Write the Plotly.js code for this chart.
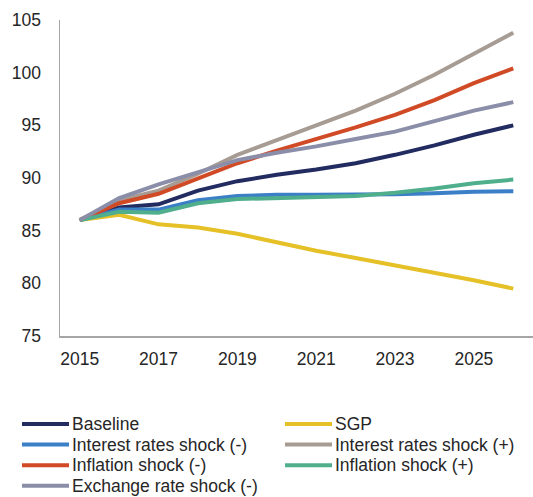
<!DOCTYPE html>
<html>
<head>
<meta charset="utf-8">
<script src="https://cdn.plot.ly/plotly-3.0.1.min.js"></script>
<style>html,body{margin:0;padding:0;background:#fff;}#chart{width:533px;height:497px;}</style>
</head>
<body>
<div id="chart"></div>
<script>
const years = [2015, 2016, 2017, 2018, 2019, 2020, 2021, 2022, 2023, 2024, 2025, 2026];
const baseline   = [86.0, 87.2, 87.5, 88.8, 89.7, 90.3, 90.8, 91.4, 92.2, 93.1, 94.1, 95.0];
const sgp        = [86.0, 86.5, 85.6, 85.3, 84.7, 83.9, 83.1, 82.4, 81.7, 81.0, 80.3, 79.5];
const irMinus    = [86.0, 87.0, 87.0, 87.9, 88.3, 88.4, 88.4, 88.4, 88.45, 88.55, 88.7, 88.75];
const irPlus     = [86.0, 87.9, 88.8, 90.4, 92.2, 93.6, 94.9, 96.4, 98.0, 99.8, 101.8, 103.8];
const inflMinus  = [86.0, 87.6, 88.5, 90.0, 91.4, 92.6, 93.7, 94.8, 96.0, 97.4, 99.0, 100.4];
const inflPlus   = [86.0, 86.8, 86.7, 87.6, 88.0, 88.1, 88.15, 88.3, 88.6, 89.0, 89.5, 89.85];
const fxMinus    = [86.0, 88.1, 89.4, 90.6, 91.7, 92.4, 93.0, 93.7, 94.4, 95.4, 96.4, 97.2];

const names = ['Baseline', 'SGP', 'Interest rates shock (-)', 'Interest rates shock (+)',
               'Inflation shock (-)', 'Inflation shock (+)', 'Exchange rate shock (-)'];
const series = [baseline, sgp, irMinus, irPlus, inflMinus, inflPlus, fxMinus];
const colors = ['#232c60', '#e6c027', '#3b7fc6', '#a79c94', '#d14a26', '#4fae8c', '#8b8ea8'];

const W = 533, H = 497;
const M = {l: 60, r: 0, t: 20, b: 161};
const PW = W - M.l - M.r, PH = H - M.t - M.b;
const px2x = px => (px - M.l) / PW;
const py2y = py => (H - M.b - py) / PH;

const traces = series.map((ys, i) => ({
  x: years, y: ys, name: names[i], type: 'scatter', mode: 'lines',
  line: {color: colors[i], width: 4}, showlegend: false
}));

// Legend drawn in two columns below the plot
const shapes = [], annotations = [];
names.forEach((nm, i) => {
  const col = i % 2, row = Math.floor(i / 2);
  const lx = 22 + col * 263, ly = 424 + row * 20.6;
  shapes.push({type: 'line', xref: 'paper', yref: 'paper',
    x0: px2x(lx), x1: px2x(lx + 47), y0: py2y(ly), y1: py2y(ly),
    line: {color: colors[i], width: 4}});
  annotations.push({xref: 'paper', yref: 'paper', x: px2x(lx + 49), y: py2y(ly),
    xanchor: 'left', yanchor: 'middle', showarrow: false, text: nm, borderpad: 0,
    font: {family: '"Liberation Sans", Arial, sans-serif', size: 17.5, color: '#262626'}});
});

const font = {family: '"Liberation Sans", Arial, sans-serif', size: 17.5, color: '#262626'};
const layout = {
  width: W, height: H,
  margin: {l: M.l, r: M.r, t: M.t, b: M.b, pad: 0},
  paper_bgcolor: '#ffffff', plot_bgcolor: '#ffffff',
  font: font,
  showlegend: false,
  xaxis: {
    range: [2014.5, 2026.5], tick0: 2015, dtick: 2, showgrid: false, zeroline: false,
    showline: true, linecolor: '#a6a6a6', linewidth: 1.5, ticks: '',
    ticklabelstandoff: 6, tickfont: font
  },
  yaxis: {
    range: [75, 105], dtick: 5, showgrid: false, zeroline: false,
    showline: true, linecolor: '#a6a6a6', linewidth: 1.5, ticks: '',
    ticklabelstandoff: 14, tickfont: font
  },
  shapes: shapes,
  annotations: annotations
};

Plotly.newPlot('chart', traces, layout, {displayModeBar: false, staticPlot: true});
</script>
</body>
</html>
